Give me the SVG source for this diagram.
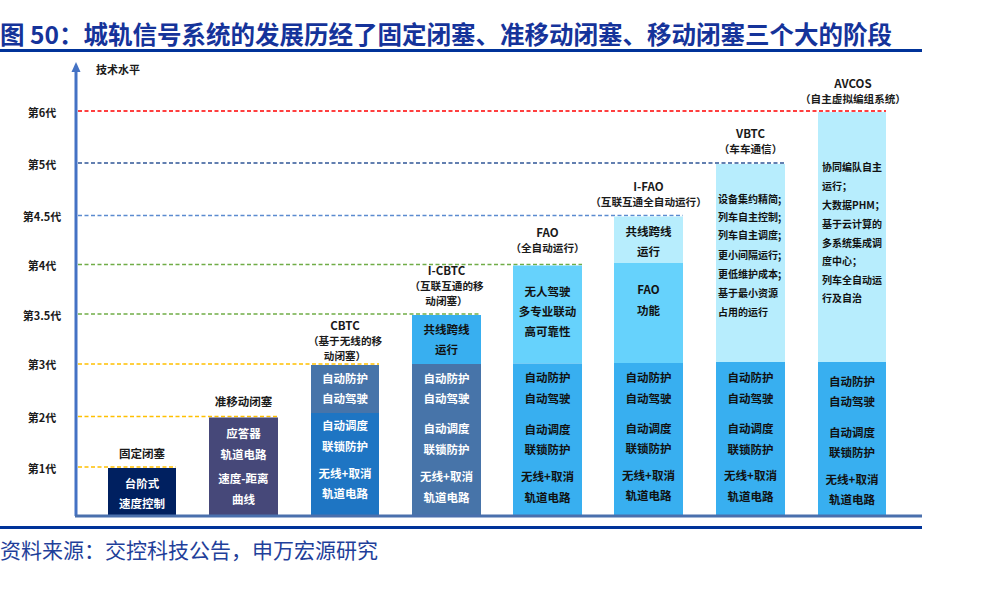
<svg xmlns="http://www.w3.org/2000/svg" width="984" height="600" viewBox="0 0 984 600">
<style>
text{font-family:"Noto Sans CJK SC","Noto Sans",sans-serif;}
.title{font-size:24.5px;font-weight:bold;fill:#15339a;}
.src{font-size:21px;fill:#1f3f9a;}
.ax{font-size:11px;font-weight:bold;fill:#1a1a1a;text-anchor:middle;dominant-baseline:central;}
.lb{font-size:11.5px;font-weight:bold;fill:#1a1a1a;text-anchor:middle;dominant-baseline:central;}
.sub{font-size:10.6px;font-weight:bold;fill:#1a1a1a;text-anchor:middle;dominant-baseline:central;}
.w{font-size:11.5px;font-weight:bold;fill:#ffffff;text-anchor:middle;dominant-baseline:central;}
.d{font-size:11.5px;font-weight:bold;fill:#111111;text-anchor:middle;dominant-baseline:central;}
.ls{font-size:10px;font-weight:bold;fill:#111111;dominant-baseline:central;}
.dash{stroke-width:1.6;stroke-dasharray:4 2.5;fill:none;}
</style>
<rect x="0" y="0" width="984" height="600" fill="#ffffff"/>
<text class="title" x="0" y="44">图 50：城轨信号系统的发展历经了固定闭塞、准移动闭塞、移动闭塞三个大的阶段</text>
<line x1="0" y1="50.5" x2="922" y2="50.5" stroke="#003399" stroke-width="3"/>

<g id="axis">
<line x1="76" y1="70" x2="76" y2="516" stroke="#4472c4" stroke-width="3"/>
<polygon points="76,62 71.5,72 80.5,72" fill="#4472c4"/>
<text class="ax" x="118" y="69">技术水平</text>
<text class="ax" x="42" y="112">第6代</text>
<text class="ax" x="42" y="164">第5代</text>
<text class="ax" x="42" y="216">第4.5代</text>
<text class="ax" x="42" y="265">第4代</text>
<text class="ax" x="42" y="315">第3.5代</text>
<text class="ax" x="42" y="364">第3代</text>
<text class="ax" x="42" y="417">第2代</text>
<text class="ax" x="42" y="468">第1代</text>
</g>

<g id="connectors">
<line class="dash" x1="78" y1="111" x2="886" y2="111" stroke="#ff0000"/>
<line class="dash" x1="78" y1="163" x2="785" y2="163" stroke="#2f5597"/>
<line class="dash" x1="78" y1="215.5" x2="683" y2="215.5" stroke="#5b8bd0"/>
<line class="dash" x1="78" y1="264.5" x2="582" y2="264.5" stroke="#70ad47"/>
<line class="dash" x1="78" y1="314" x2="481" y2="314" stroke="#70ad47"/>
<line class="dash" x1="78" y1="364" x2="379" y2="364" stroke="#ffc000"/>
<line class="dash" x1="78" y1="416.5" x2="278" y2="416.5" stroke="#ffc000"/>
<line class="dash" x1="78" y1="467" x2="176" y2="467" stroke="#ffc000"/>
</g>

<g id="col1">
<rect x="108" y="468" width="68" height="47" fill="#002060"/>
<text class="lb" x="142" y="453">固定闭塞</text>
<text class="w" x="142" y="483">台阶式</text>
<text class="w" x="142" y="503">速度控制</text>
</g>

<g id="col2">
<rect x="209" y="417.5" width="69" height="97.5" fill="#464879"/>
<text class="lb" x="243.5" y="401">准移动闭塞</text>
<text class="w" x="243.5" y="433">应答器</text>
<text class="w" x="243.5" y="454">轨道电路</text>
<text class="w" x="243.5" y="478">速度-距离</text>
<text class="w" x="243.5" y="499">曲线</text>
</g>

<g id="col3">
<rect x="311" y="365" width="68" height="48" fill="#4774a9"/>
<rect x="311" y="413" width="68" height="102" fill="#1e75c3"/>
<text class="lb" x="345" y="325">CBTC</text>
<text class="sub" x="345" y="340">（基于无线的移</text>
<text class="sub" x="345" y="355">动闭塞）</text>
<text class="w" x="345" y="378">自动防护</text>
<text class="w" x="345" y="398">自动驾驶</text>
<text class="w" x="345" y="425">自动调度</text>
<text class="w" x="345" y="446">联锁防护</text>
<text class="w" x="345" y="473">无线+取消</text>
<text class="w" x="345" y="493">轨道电路</text>
</g>

<g id="col4">
<rect x="412" y="315" width="69" height="49" fill="#38aff0"/>
<rect x="412" y="364" width="69" height="151" fill="#4774a9"/>
<text class="lb" x="446.5" y="270">I-CBTC</text>
<text class="sub" x="446.5" y="285">（互联互通的移</text>
<text class="sub" x="446.5" y="300">动闭塞）</text>
<text class="d" x="446.5" y="329">共线跨线</text>
<text class="d" x="446.5" y="349">运行</text>
<text class="w" x="446.5" y="378">自动防护</text>
<text class="w" x="446.5" y="398">自动驾驶</text>
<text class="w" x="446.5" y="428">自动调度</text>
<text class="w" x="446.5" y="449">联锁防护</text>
<text class="w" x="446.5" y="476">无线+取消</text>
<text class="w" x="446.5" y="497">轨道电路</text>
</g>

<g id="col5">
<rect x="513" y="265.5" width="69" height="98" fill="#66d2fc"/>
<rect x="513" y="363.5" width="69" height="151.5" fill="#38aff0"/>
<text class="lb" x="547.5" y="232">FAO</text>
<text class="sub" x="547.5" y="247">（全自动运行）</text>
<text class="d" x="547.5" y="291">无人驾驶</text>
<text class="d" x="547.5" y="311">多专业联动</text>
<text class="d" x="547.5" y="331">高可靠性</text>
<text class="d" x="547.5" y="377">自动防护</text>
<text class="d" x="547.5" y="398">自动驾驶</text>
<text class="d" x="547.5" y="429">自动调度</text>
<text class="d" x="547.5" y="449">联锁防护</text>
<text class="d" x="547.5" y="476">无线+取消</text>
<text class="d" x="547.5" y="497">轨道电路</text>
</g>

<g id="col6">
<rect x="614" y="216.5" width="69" height="46.5" fill="#b7edfd"/>
<rect x="614" y="263" width="69" height="100" fill="#66d2fc"/>
<rect x="614" y="363" width="69" height="152" fill="#38aff0"/>
<text class="lb" x="648.5" y="186">I-FAO</text>
<text class="sub" x="648.5" y="201">（互联互通全自动运行）</text>
<text class="d" x="648.5" y="231">共线跨线</text>
<text class="d" x="648.5" y="251">运行</text>
<text class="d" x="648.5" y="289">FAO</text>
<text class="d" x="648.5" y="310">功能</text>
<text class="d" x="648.5" y="377">自动防护</text>
<text class="d" x="648.5" y="398">自动驾驶</text>
<text class="d" x="648.5" y="428">自动调度</text>
<text class="d" x="648.5" y="448">联锁防护</text>
<text class="d" x="648.5" y="475">无线+取消</text>
<text class="d" x="648.5" y="495">轨道电路</text>
</g>

<g id="col7">
<rect x="716" y="164" width="69" height="198" fill="#b7edfd"/>
<rect x="716" y="362" width="69" height="153" fill="#38aff0"/>
<text class="lb" x="750.5" y="133">VBTC</text>
<text class="sub" x="750.5" y="148">（车车通信）</text>
<text class="ls" x="718" y="198">设备集约精简;</text>
<text class="ls" x="718" y="216">列车自主控制;</text>
<text class="ls" x="718" y="234">列车自主调度;</text>
<text class="ls" x="718" y="254">更小间隔运行;</text>
<text class="ls" x="718" y="273">更低维护成本;</text>
<text class="ls" x="718" y="292">基于最小资源</text>
<text class="ls" x="718" y="311">占用的运行</text>
<text class="d" x="750.5" y="377">自动防护</text>
<text class="d" x="750.5" y="398">自动驾驶</text>
<text class="d" x="750.5" y="428">自动调度</text>
<text class="d" x="750.5" y="449">联锁防护</text>
<text class="d" x="750.5" y="475">无线+取消</text>
<text class="d" x="750.5" y="496">轨道电路</text>
</g>

<g id="col8">
<rect x="818" y="112" width="68" height="250" fill="#b7edfd"/>
<rect x="818" y="362" width="68" height="153" fill="#38aff0"/>
<text class="lb" x="853" y="83">AVCOS</text>
<text class="sub" x="853" y="98">（自主虚拟编组系统）</text>
<text class="ls" x="822" y="166">协同编队自主</text>
<text class="ls" x="822" y="185">运行；</text>
<text class="ls" x="822" y="204">大数据PHM；</text>
<text class="ls" x="822" y="223">基于云计算的</text>
<text class="ls" x="822" y="242">多系统集成调</text>
<text class="ls" x="822" y="260">度中心；</text>
<text class="ls" x="822" y="279">列车全自动运</text>
<text class="ls" x="822" y="297">行及自治</text>
<text class="d" x="852" y="381">自动防护</text>
<text class="d" x="852" y="401">自动驾驶</text>
<text class="d" x="852" y="432">自动调度</text>
<text class="d" x="852" y="452">联锁防护</text>
<text class="d" x="852" y="479">无线+取消</text>
<text class="d" x="852" y="499">轨道电路</text>
</g>

<line x1="75" y1="516" x2="922" y2="516" stroke="#4a70ad" stroke-width="3"/>
<line x1="0" y1="527.5" x2="922" y2="527.5" stroke="#003399" stroke-width="3"/>
<text class="src" x="0" y="558">资料来源：交控科技公告，申万宏源研究</text>
</svg>
